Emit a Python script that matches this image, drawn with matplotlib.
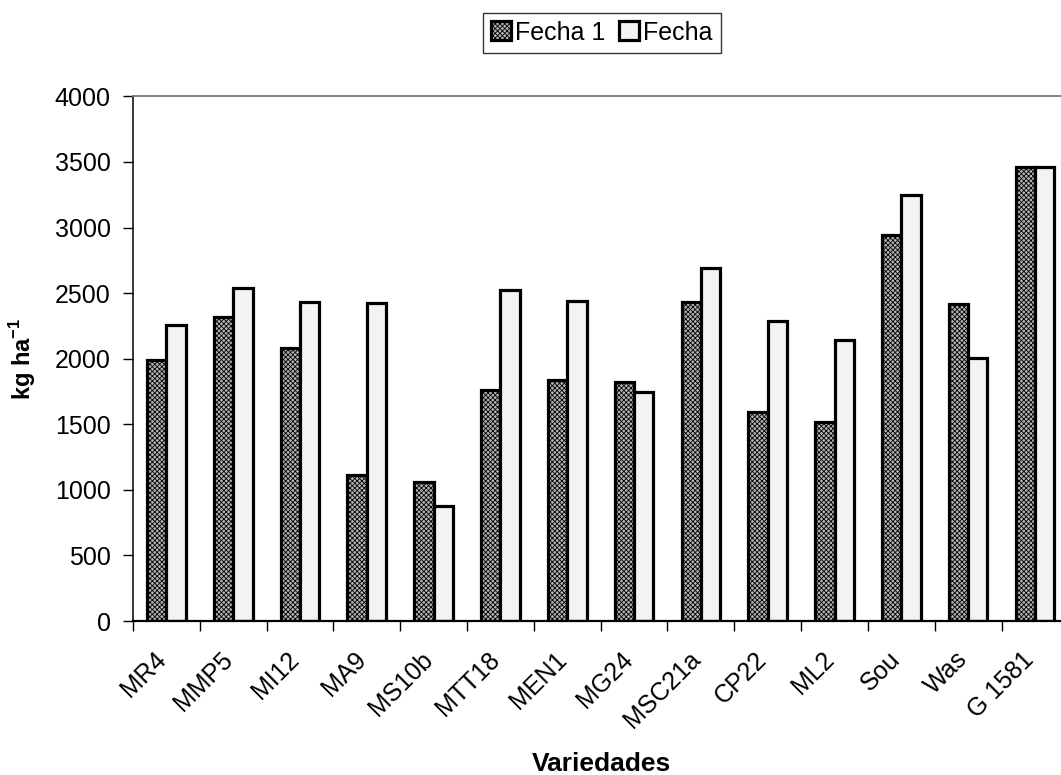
import numpy as np
import matplotlib.pyplot as plt
from matplotlib import transforms

plt.rcParams['font.family'] = ['Liberation Sans', 'DejaVu Sans']
plt.rcParams['hatch.color'] = '#3a3a3a'
plt.rcParams['hatch.linewidth'] = 0.6

variedades = ['MR4', 'MMP5', 'MI12', 'MA9', 'MS10b', 'MTT18', 'MEN1', 'MG24',
              'MSC21a', 'CP22', 'ML2', 'Sou', 'Was', 'G 1581']
fecha_1 = [1990, 2320, 2080, 1110, 1060, 1760, 1835, 1820, 2430, 1590, 1520, 2940, 2420, 3465]
fecha_2 = [2260, 2535, 2430, 2425, 875, 2525, 2440, 1745, 2695, 2285, 2145, 3245, 2005, 3460]

fig = plt.figure(figsize=(10.61, 7.75), dpi=100)
ax = fig.add_axes([0.1254, 0.1987, 0.8815, 0.677])

x = np.arange(len(variedades))
ancho = 0.29

ax.bar(x - ancho / 2, fecha_1, ancho, facecolor='#b4b4b4', edgecolor='black',
       linewidth=2.3, hatch='xxxxxxx', label='Fecha 1')
ax.bar(x + ancho / 2, fecha_2, ancho, facecolor='#f3f3f3', edgecolor='black',
       linewidth=2.3, label='Fecha')

ax.set_xlim(-0.5, len(variedades) - 0.5)
ax.set_ylim(0, 4000)
ax.set_yticks(range(0, 4001, 500))
ax.tick_params(axis='y', labelsize=18, length=7, width=1, direction='out', pad=9)

# etiquetas centradas, marcas entre categorías
ax.set_xticks(x)
ax.set_xticks(np.arange(-0.5, len(variedades)), minor=True)
ax.tick_params(axis='x', which='major', length=0, labelsize=18, pad=25)
ax.tick_params(axis='x', which='minor', length=7, width=1, direction='out')
desplazar = transforms.ScaledTranslation(-4.5 / 100, 0, fig.dpi_scale_trans)
ax.set_xticklabels(variedades, rotation=45, ha='right', va='center', rotation_mode='anchor')
for etiqueta in ax.get_xticklabels():
    etiqueta.set_transform(etiqueta.get_transform() + desplazar)

ax.spines['right'].set_visible(False)
ax.spines['top'].set_color('#7a7a7a')
ax.spines['top'].set_linewidth(1.3)
ax.spines['left'].set_linewidth(1.1)
ax.spines['bottom'].set_linewidth(1.6)

ax.set_ylabel('kg ha$^{\\mathregular{-1}}$', fontsize=17, fontweight='bold', labelpad=12)
ax.set_xlabel('Variedades', fontsize=19, fontweight='bold')
ax.xaxis.set_label_coords(0.501, -0.249)

ley = fig.legend(loc='center', bbox_to_anchor=(0.567, 0.958), ncol=2, fontsize=18,
                 frameon=True, fancybox=False, edgecolor='black', handlelength=0.8,
                 handleheight=0.8, handletextpad=0.16, columnspacing=0.56, borderpad=0.32)
ley.get_frame().set_linewidth(1.0)

fig.savefig('out.png', dpi=100)
